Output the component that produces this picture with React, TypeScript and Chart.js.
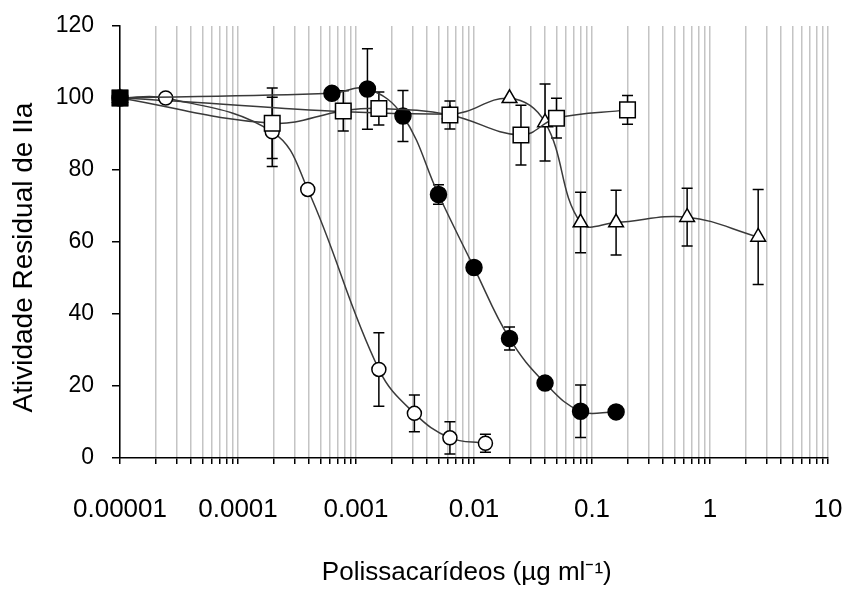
import React, { useEffect, useRef } from 'react';
import { Chart, registerables } from 'chart.js';

Chart.register(...registerables);

// ---- Data ----
const controlX = [0.00001];
const controlY = [100];

const openX = [0.00001, 0.0000244, 0.000195, 0.00039, 0.0015625, 0.003125, 0.00625, 0.0125];
const openY = [100, 100, 90.6, 74.6, 24.6, 12.4, 5.6, 4.1];
const openErr = [0, 0, 9.6, 1.2, 10.2, 5.1, 4.5, 2.5];

const filledX = [0.00001, 0.000625, 0.00125, 0.0025, 0.005, 0.01, 0.02, 0.04, 0.08, 0.16];
const filledY = [100, 101.3, 102.5, 95, 73.2, 52.9, 33.2, 20.8, 13, 12.8];
const filledErr = [0, 0, 11.2, 7.1, 2.7, 0.5, 3.2, 0.5, 7.3, 0];

const squareX = [0.00001, 0.000195, 0.00078, 0.0015625, 0.00625, 0.025, 0.05, 0.2];
const squareY = [100, 93, 96.4, 97.1, 95.3, 89.7, 94.4, 96.7];
const squareErr = [0, 9.8, 5.6, 4.6, 3.9, 8.3, 5.5, 4];

const triX = [0.00001, 0.00625, 0.02, 0.04, 0.08, 0.16, 0.64, 2.56];
const triY = [100, 95.5, 99.9, 93.2, 65.4, 65.4, 66.9, 61.4];
const triErr = [0, 0, 0, 10.7, 8.4, 9, 8, 13.2];

const xDecades = [0.00001, 0.0001, 0.001, 0.01, 0.1, 1, 10];
const xTickLabels = ['0.00001', '0.0001', '0.001', '0.01', '0.1', '1', '10'];
const yMin = 0;
const yMax = 120;
const yStep = 20;

const xTitle = 'Polissacarídeos (µg ml⁻¹)';
const yTitle = 'Atividade Residual de IIa';

const FONT = "'Liberation Sans', Arial, sans-serif";
const LINE = '#3a3a3a';

const toPts = (xs: number[], ys: number[]) => xs.map((x, i) => ({ x, y: ys[i] }));

const errorBarPlugin = {
  id: 'errorBars',
  beforeDatasetsDraw(chart: any) {
    const { ctx, scales } = chart;
    const xs = scales.x;
    const ys = scales.y;
    ctx.save();
    ctx.strokeStyle = '#000';
    ctx.lineWidth = 1.5;
    chart.data.datasets.forEach((ds: any) => {
      const errs: number[] | undefined = ds.errors;
      if (!errs) return;
      ds.data.forEach((p: any, j: number) => {
        const e = errs[j];
        if (!e) return;
        const px = xs.getPixelForValue(p.x);
        const top = ys.getPixelForValue(p.y + e);
        const bot = ys.getPixelForValue(p.y - e);
        const cap = 5.5;
        ctx.beginPath();
        ctx.moveTo(px, top);
        ctx.lineTo(px, bot);
        ctx.moveTo(px - cap, top);
        ctx.lineTo(px + cap, top);
        ctx.moveTo(px - cap, bot);
        ctx.lineTo(px + cap, bot);
        ctx.stroke();
      });
    });
    ctx.restore();
  },
};

// Shift axis titles slightly off-centre, as in the reference
const titleShiftPlugin = {
  id: 'titleShift',
  beforeDraw(chart: any) {
    chart.ctx.letterSpacing = '0px';
  },
};

export default function App() {
  const ref = useRef<HTMLCanvasElement>(null);

  useEffect(() => {
    if (!ref.current) return;
    const common = {
      borderColor: LINE,
      borderWidth: 1.5,
      tension: 0.4,
      pointBorderColor: '#000',
      pointBorderWidth: 1.5,
      pointHoverRadius: 0,
      clip: false,
      fill: false,
    };
    const chart = new Chart(ref.current, {
      type: 'line',
      data: {
        datasets: [
          {
            ...common,
            label: 'Controle',
            data: toPts(controlX, controlY),
            showLine: false,
            pointStyle: 'rect',
            pointRadius: 10.5,
            pointBackgroundColor: '#000',
            order: 0,
          },
          {
            ...common,
            label: 'Quadrados',
            data: toPts(squareX, squareY),
            errors: squareErr,
            pointStyle: 'rect',
            pointRadius: 11,
            pointBackgroundColor: '#fff',
            order: 1,
          },
          {
            ...common,
            label: 'Círculos cheios',
            data: toPts(filledX, filledY),
            errors: filledErr,
            pointStyle: 'circle',
            pointRadius: 8,
            pointBackgroundColor: '#000',
            order: 2,
          },
          {
            ...common,
            label: 'Círculos vazios',
            data: toPts(openX, openY),
            errors: openErr,
            pointStyle: 'circle',
            pointRadius: 7,
            pointBackgroundColor: '#fff',
            order: 3,
          },
          {
            ...common,
            label: 'Triângulos',
            data: toPts(triX, triY),
            errors: triErr,
            pointStyle: 'triangle',
            pointRadius: 8.5,
            pointBackgroundColor: '#fff',
            order: 4,
          },
        ] as any,
      },
      options: {
        animation: false,
        responsive: false,
        events: [],
        layout: { padding: 0 },
        plugins: {
          legend: { display: false },
          tooltip: { enabled: false },
        },
        scales: {
          x: {
            type: 'logarithmic',
            min: xDecades[0],
            max: xDecades[xDecades.length - 1],
            afterBuildTicks: (scale: any) => {
              const ticks: any[] = [];
              for (let d = 0; d < xDecades.length; d++) {
                const base = xDecades[d];
                ticks.push({ value: base, major: true });
                if (d < xDecades.length - 1) {
                  for (let m = 2; m <= 9; m++) ticks.push({ value: base * m, major: false });
                }
              }
              scale.ticks = ticks;
            },
            afterFit: (scale: any) => {
              scale.height = 131;
              scale.paddingLeft = 0;
              scale.paddingRight = 15;
            },
            ticks: {
              autoSkip: false,
              maxRotation: 0,
              minRotation: 0,
              padding: 30,
              color: '#000',
              font: { family: FONT, size: 26 },
              callback: (value: any) => {
                const v = Number(value);
                const i = xDecades.findIndex((d) => Math.abs(d - v) / d < 1e-6);
                return i >= 0 ? xTickLabels[i] : '';
              },
            },
            grid: {
              color: '#c4c4c4',
              lineWidth: 1.5,
              tickColor: '#000',
              tickLength: 6,
              drawTicks: true,
            },
            border: { color: '#000', width: 1.5 },
            title: {
              display: true,
              text: xTitle + '  ',
              color: '#000',
              font: { family: FONT, size: 26 },
              padding: { top: 0, bottom: 1 },
            },
          },
          y: {
            type: 'linear',
            min: yMin,
            max: yMax,
            afterFit: (scale: any) => {
              scale.width = 120;
              scale.paddingTop = 26;
              scale.paddingBottom = 0;
            },
            ticks: {
              stepSize: yStep,
              padding: 18,
              color: '#000',
              font: { family: FONT, size: 23 },
            },
            grid: {
              drawOnChartArea: false,
              tickColor: '#000',
              tickLength: 8,
              lineWidth: 1.5,
            },
            border: { color: '#000', width: 1.5 },
            title: {
              display: true,
              text: yTitle + '    ',
              color: '#000',
              font: { family: FONT, size: 28 },
              padding: { top: 7, bottom: 0 },
            },
          },
        },
      } as any,
      plugins: [errorBarPlugin, titleShiftPlugin],
    });
    return () => chart.destroy();
  }, []);

  return (
    <div style={{ position: 'absolute', left: 0, top: 0, width: 843, height: 589, background: '#fff' }}>
      <canvas ref={ref} width={843} height={589} />
    </div>
  );
}
